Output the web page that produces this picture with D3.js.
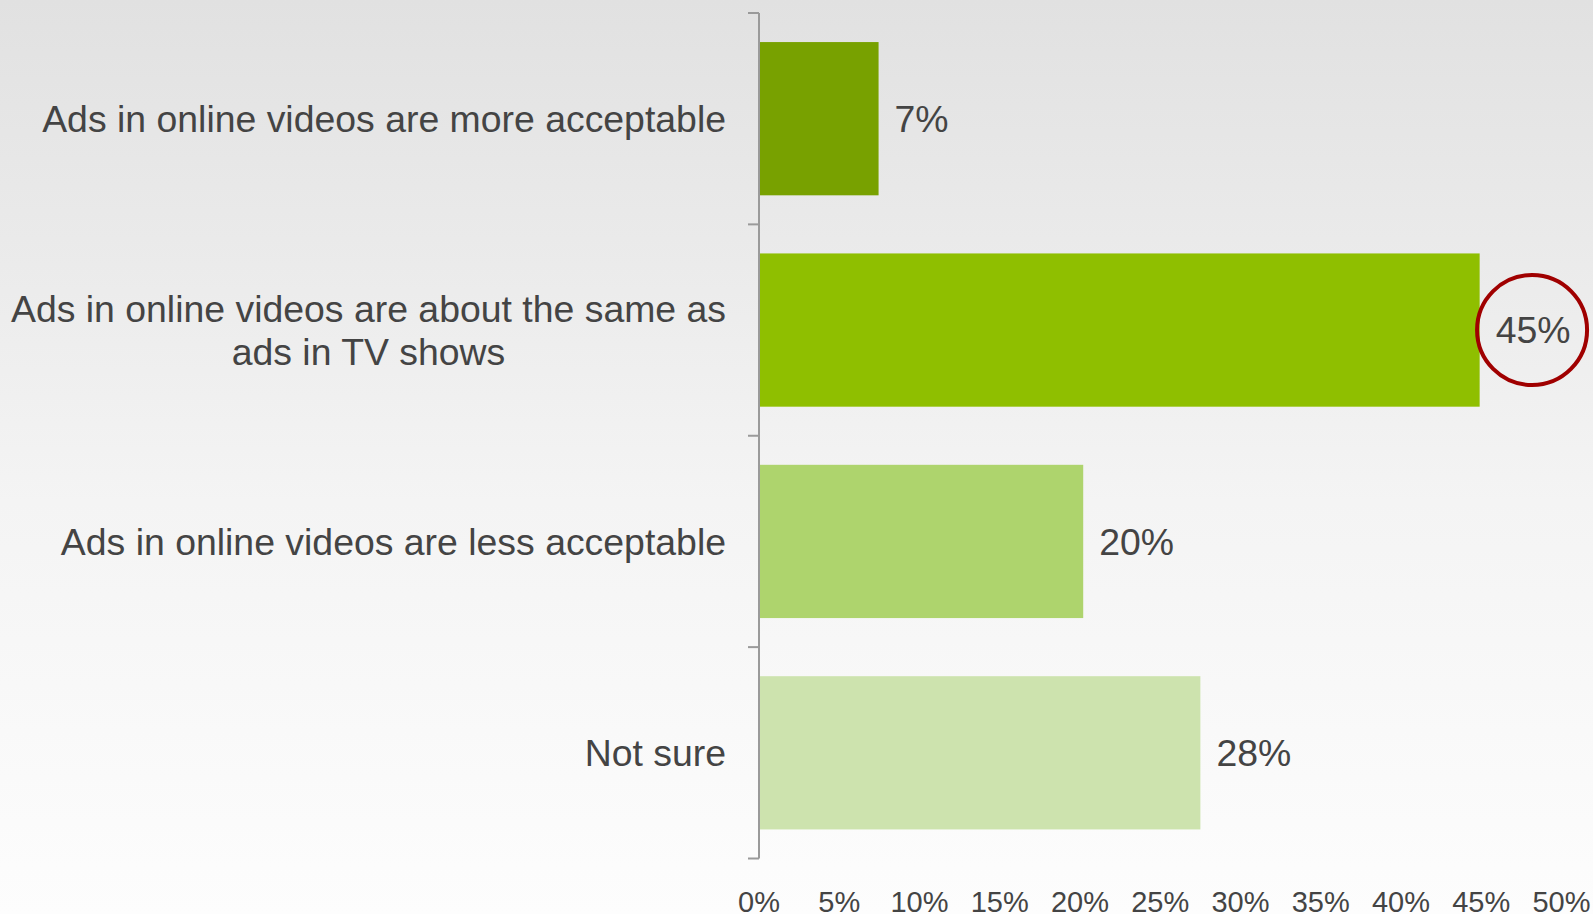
<!DOCTYPE html>
<html>
<head>
<meta charset="utf-8">
<script src="https://cdn.jsdelivr.net/npm/d3@7"></script>
<style>
  html, body { margin: 0; padding: 0; background: #fff; }
  svg { display: block; font-family: "Liberation Sans", Arial, sans-serif; }
</style>
</head>
<body>
<svg id="chart" width="1593" height="914"></svg>
<script>
// ---- data ----
const categories = [
  ["Ads in online videos are more acceptable"],
  ["Ads in online videos are about the same as", "ads in TV shows"],
  ["Ads in online videos are less acceptable"],
  ["Not sure"]
];
const values = [7.45, 44.9, 20.2, 27.5];
const valueLabels = ["7%", "45%", "20%", "28%"];
const barColors = ["#78a100", "#8fbf00", "#aed46d", "#cde3ae"];
const xTicks = [0, 5, 10, 15, 20, 25, 30, 35, 40, 45, 50];
const highlightIndex = 1;

// ---- layout ----
const W = 1593, H = 914;
const svg = d3.select("#chart");
const textColor = "#444444";

const defs = svg.append("defs");
const grad = defs.append("linearGradient").attr("id", "bg")
  .attr("x1", 0).attr("y1", 0).attr("x2", 0).attr("y2", 1);
grad.append("stop").attr("offset", "0%").attr("stop-color", "#e1e1e1");
grad.append("stop").attr("offset", "55%").attr("stop-color", "#f4f4f4");
grad.append("stop").attr("offset", "100%").attr("stop-color", "#fdfdfd");
svg.append("rect").attr("width", W).attr("height", H).attr("fill", "url(#bg)");

const keys = categories.map((c, i) => i);
const y = d3.scaleBand().domain(keys).range([13, 858.5]).paddingInner(0.275).paddingOuter(0.1375);
const x = d3.scaleLinear().domain([0, 50]).range([759, 1561.5]);

// bars
svg.append("g").selectAll("rect").data(values).join("rect")
  .attr("x", x(0))
  .attr("y", (d, i) => y(i))
  .attr("width", d => x(d) - x(0))
  .attr("height", y.bandwidth())
  .attr("fill", (d, i) => barColors[i]);

// axis line + ticks at band boundaries
const ax = svg.append("g");
const y0 = y.range()[0], y1 = y.range()[1];
ax.append("line").attr("x1", x(0)).attr("x2", x(0)).attr("y1", y0).attr("y2", y1)
  .attr("stroke", "#9a9a9a").attr("stroke-width", 2);
const boundaries = d3.range(categories.length + 1).map(i => y0 + i * y.step());
ax.selectAll("line.tk").data(boundaries).join("line").attr("class", "tk")
  .attr("x1", x(0) - 11).attr("x2", x(0)).attr("y1", d => d).attr("y2", d => d)
  .attr("stroke", "#9a9a9a").attr("stroke-width", 2);

// category labels
const labelRight = 726;
const lineH = 43;
categories.forEach((lines, i) => {
  const cy = y(i) + y.bandwidth() / 2;
  const g = svg.append("g");
  const texts = lines.map((ln, j) => g.append("text")
    .attr("y", cy + (j - (lines.length - 1) / 2) * lineH)
    .attr("dy", "0.35em")
    .attr("font-size", 37.4)
    .attr("fill", textColor)
    .text(ln));
  const widths = texts.map(t => t.node().getComputedTextLength());
  const maxW = d3.max(widths);
  const center = labelRight - maxW / 2;
  texts.forEach(t => t.attr("x", center).attr("text-anchor", "middle"));
});

// value labels
svg.append("g").selectAll("text").data(values).join("text")
  .attr("x", d => x(d) + 16)
  .attr("y", (d, i) => y(i) + y.bandwidth() / 2)
  .attr("dy", "0.35em")
  .attr("font-size", 37.4)
  .attr("fill", textColor)
  .text((d, i) => valueLabels[i]);

// highlight circle
{
  const d = values[highlightIndex];
  const t = svg.append("text").attr("font-size", 37.4).text(valueLabels[highlightIndex]);
  const w = t.node().getComputedTextLength();
  t.remove();
  const cx = x(d) + 15 + w / 2;
  const cy = y(highlightIndex) + y.bandwidth() / 2;
  svg.append("circle").attr("cx", cx).attr("cy", cy).attr("r", 55)
    .attr("fill", "none").attr("stroke", "#a00000").attr("stroke-width", 4);
}

// x tick labels
svg.append("g").selectAll("text").data(xTicks).join("text")
  .attr("x", d => x(d))
  .attr("y", 912)
  .attr("text-anchor", "middle")
  .attr("font-size", 29)
  .attr("fill", textColor)
  .text(d => d + "%");
</script>
</body>
</html>
